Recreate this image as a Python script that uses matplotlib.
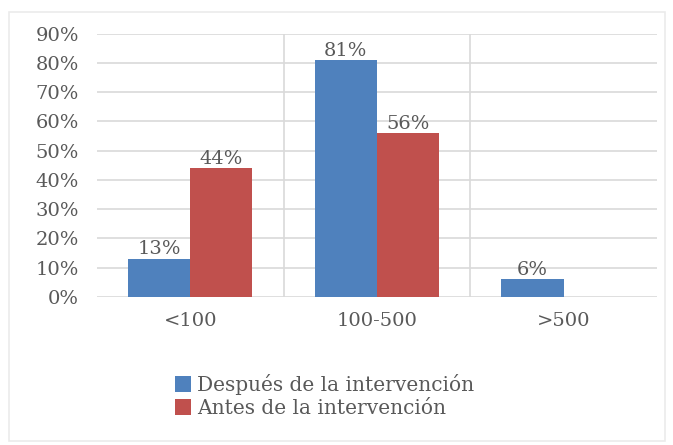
import numpy as np
import matplotlib.pyplot as plt
from matplotlib.patches import Rectangle

# -------- Data ----------
categories = ["<100", "100-500", ">500"]
despues = [13, 81, 6]   # Después de la intervención (%)
antes = [44, 56, 0]     # Antes de la intervención (%)
y_ticks = [0, 10, 20, 30, 40, 50, 60, 70, 80, 90]
# ------------------------

BLUE = "#4F81BD"
RED = "#C0504D"
TEXT = "#595959"
GRID = "#D9D9D9"

plt.rcParams['font.family'] = ['DejaVu Serif']

fig = plt.figure(figsize=(6.73, 4.45), dpi=100)
ax = fig.add_axes([0.144, 0.333, 0.832, 0.591])

x = np.arange(len(categories))
w = 1 / 3
b1 = ax.bar(x - w / 2, despues, w, color=BLUE, label="Después de la intervención", zorder=3)
b2 = ax.bar(x + w / 2, antes, w, color=RED, label="Antes de la intervención", zorder=3)

# data labels (skip empty bars)
for bars, vals in [(b1, despues), (b2, antes)]:
    for rect, v in zip(bars, vals):
        if v > 0:
            ax.text(rect.get_x() + rect.get_width() / 2, v + 0.2, f"{v}%",
                    ha='center', va='bottom', fontsize=14, color=TEXT, zorder=4)

ax.set_xlim(-0.5, len(categories) - 0.5)
ax.set_ylim(0, 90)
ax.set_yticks(y_ticks)
ax.set_yticklabels([f"{t}%" for t in y_ticks])
ax.set_xticks(x)
ax.set_xticklabels(categories)
ax.tick_params(axis='both', length=0, labelsize=14, labelcolor=TEXT)
ax.tick_params(axis='y', pad=13)
ax.tick_params(axis='x', pad=11)

# horizontal gridlines + category separators
for t in y_ticks:
    ax.axhline(t, color=GRID, lw=1.2, zorder=1)
for sep in x[:-1] + 0.5:
    ax.axvline(sep, color=GRID, lw=1.2, zorder=1)

for s in ax.spines.values():
    s.set_visible(False)

leg = fig.legend(handles=[b1, b2], loc='upper left', bbox_to_anchor=(0.248, 0.178),
                 frameon=False, fontsize=14.5, handlelength=0.8, handleheight=0.8,
                 handletextpad=0.3, labelspacing=0.2, borderaxespad=0)
for t in leg.get_texts():
    t.set_color(TEXT)

# faint outer frame
fig.patches.append(Rectangle((0.013, 0.01), 0.975, 0.963, transform=fig.transFigure,
                             fill=False, edgecolor="#EBEBEB", lw=1.2))

fig.savefig("out.png", dpi=100)
